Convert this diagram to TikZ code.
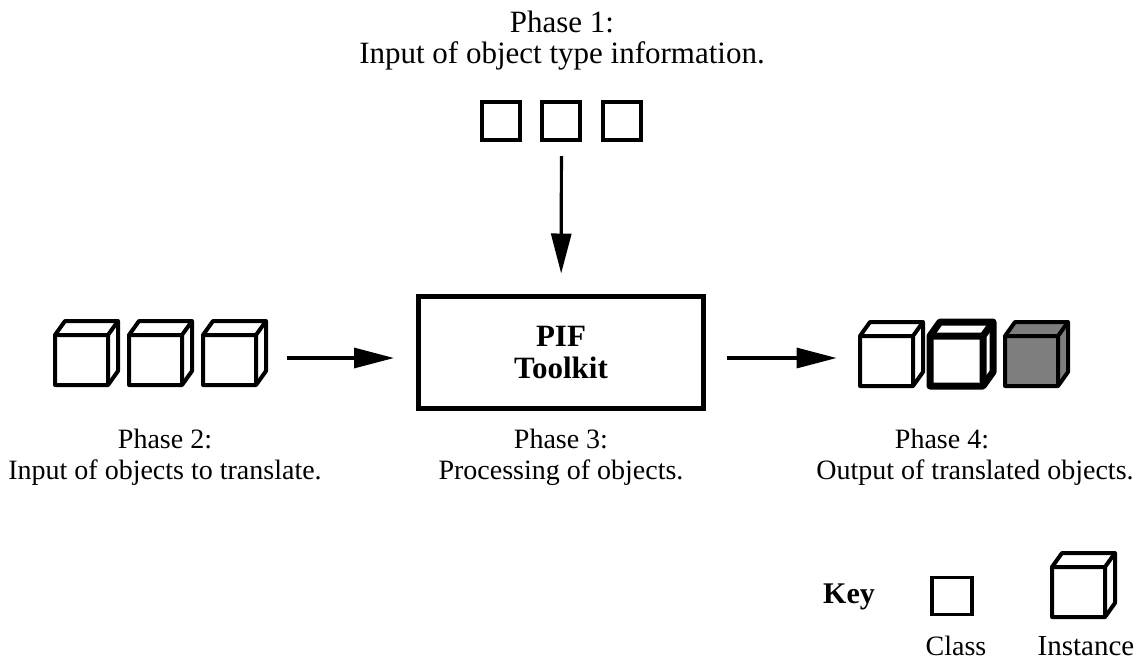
\documentclass[tikz,border=0pt]{standalone}
\usepackage{fontspec}
\setmainfont{Liberation Serif}
\usetikzlibrary{arrows.meta, positioning, fit}
\definecolor{cubeGray}{HTML}{7E7E7E}

% oblique cube, front face with its top left corner at (#2,#3)
\newcommand{\objcube}[3][]{%
  \filldraw[cube, #1] (#2,#3) -- ++(10,-14) -- ++(53,0) -- ++(0,50) -- ++(-10,14) -- ++(-53,0) -- cycle;
  \draw[cube, #1] (#2,#3) -- ++(53,0) -- ++(0,50) (#2+53,#3) -- ++(10,-14);
}

\begin{document}
\begin{tikzpicture}[
    x=0.5pt, y=-0.5pt,
    phase/.style={align=center, inner sep=0pt, font=\fontsize{14}{15.5}\selectfont},
    cube/.style={line width=2pt, line join=round, fill=white},
    clsbox/.style={draw, line width=1.6pt, minimum size=19pt, inner sep=0pt},
    pif/.style={draw, line width=2.5pt, minimum width=142.5pt, minimum height=56pt, align=center, font=\fontsize{15.5}{16}\selectfont\bfseries},
    arrow/.style={-{Triangle[length=20pt, width=10pt]}, line width=1.6pt},
]
    \useasboundingbox (0,0) rectangle (1141,660);

    % Phase 1
    \node[phase, font=\fontsize{15.5}{15.5}\selectfont] (ph1) at (562,41) {Phase 1:\\Input of object type information.};
    \node[clsbox] (t1) at (501,121) {};
    \node[clsbox] (t2) at (561,121) {};
    \node[clsbox] (t3) at (622,121) {};
    \node[fit={(t1) (t3)}, inner xsep=0pt, inner ysep=7pt] (intypes) {};

    % Phase 3
    \node[pif] (pif) at (561,352) {PIF\\Toolkit};

    % Phase 2
    \objcube{55}{335}
    \objcube{129}{335}
    \objcube{203}{335}
    \node[fit={(55,320) (267,384)}, inner xsep=10pt, inner ysep=0pt] (inobjs) {};

    % Phase 4
    \objcube{860}{336}
    \objcube[line width=3.5pt]{930}{336}
    \objcube[fill=cubeGray]{1005}{336}
    \node[fit={(860,320) (1070,384)}, inner xsep=11.5pt, inner ysep=0pt] (outobjs) {};

    \draw[arrow, shorten >=10pt] (intypes) -- (pif);
    \draw[arrow, shorten >=11pt] ([yshift=-3pt]inobjs.east) -- ([yshift=-3pt]pif.west);
    \draw[arrow, shorten <=10.5pt] ([yshift=-3pt]pif.east) -- ([yshift=-3pt]outobjs.west);

    \node[phase] (ph2) at (165,457) {Phase 2:\\Input of objects to translate.};
    \node[phase] (ph3) at (561,457) {Phase 3:\\Processing of objects.};
    \node[phase] (ph4) at (975,457) {Phase 4:\hspace*{33pt}\\Output of translated objects.};

    % Key
    \node[anchor=base, font=\fontsize{15}{16}\selectfont\bfseries] (key) at (849,603) {Key};
    \node[clsbox, minimum width=20pt, minimum height=18.5pt] (keycls) at (952,596) {};
    \objcube{1052}{567}
    \node[anchor=base, font=\fontsize{14}{16}\selectfont] (clslbl) at (956,655) {Class};
    \node[anchor=base, font=\fontsize{14.5}{16}\selectfont] (instlbl) at (1086,655) {Instance};
\end{tikzpicture}
\end{document}
